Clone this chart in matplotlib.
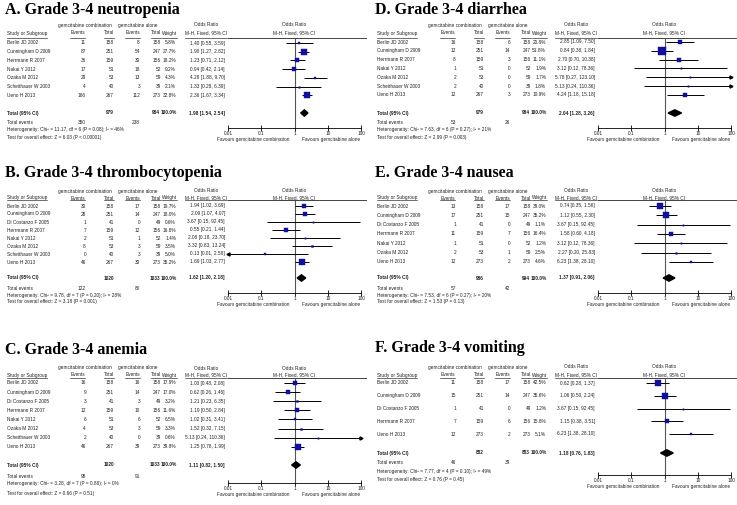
import matplotlib
matplotlib.use("Agg")
import matplotlib.pyplot as plt
import numpy as np

# ---------------- data ----------------
# A. neutropenia
a_study = ["Berlin JD 2002", "Cunningham D 2009", "Herrmann R 2007", "Nakai Y 2012",
           "Ozaka M 2012", "Scheithauer W 2003", "Ueno H 2013"]
a_ev1 = [11, 87, 36, 17, 29, 4, 166]
a_n1 = [158, 251, 159, 51, 53, 40, 267]
a_ev2 = [8, 54, 30, 18, 13, 3, 112]
a_n2 = [158, 247, 156, 52, 59, 39, 273]
a_wt = [5.8, 27.7, 18.2, 9.2, 4.3, 2.1, 32.8]
a_or = [1.40, 1.90, 1.23, 0.94, 4.28, 1.33, 2.36]
a_lo = [0.55, 1.27, 0.71, 0.42, 1.88, 0.28, 1.67]
a_hi = [3.59, 2.82, 2.12, 2.14, 9.70, 6.39, 3.34]
a_tot = [1.98, 1.54, 2.54]
a_het = "Heterogeneity: Chi² = 11.17, df = 6 (P = 0.08); I² = 46%"
a_test = "Test for overall effect: Z = 6.03 (P < 0.00001)"

# B. thrombocytopenia
b_study = ["Berlin JD 2002", "Cunningham D 2009", "Di Costanzo F 2005", "Herrmann R 2007",
           "Nakai Y 2012", "Ozaka M 2012", "Scheithauer W 2003", "Ueno H 2013"]
b_ev1 = [30, 28, 1, 7, 2, 8, 0, 46]
b_n1 = [158, 251, 41, 159, 51, 53, 40, 267]
b_ev2 = [17, 14, 0, 12, 1, 3, 3, 30]
b_n2 = [158, 247, 49, 156, 52, 59, 39, 273]
b_wt = [19.7, 18.0, 0.6, 16.6, 1.4, 3.5, 5.0, 35.2]
b_or = [1.94, 2.09, 3.67, 0.55, 2.08, 3.32, 0.13, 1.69]
b_lo = [1.02, 1.07, 0.15, 0.21, 0.18, 0.83, 0.01, 1.03]
b_hi = [3.69, 4.07, 92.45, 1.44, 23.70, 13.24, 2.58, 2.77]
b_tot = [1.62, 1.20, 2.18]
b_het = "Heterogeneity: Chi² = 9.78, df = 7 (P = 0.20); I² = 28%"
b_test = "Test for overall effect: Z = 3.18 (P = 0.001)"

# C. anemia
c_study = b_study
c_ev1 = [16, 9, 3, 12, 6, 4, 2, 46]
c_n1 = [158, 251, 41, 159, 51, 53, 40, 267]
c_ev2 = [16, 14, 3, 10, 6, 3, 0, 39]
c_n2 = [158, 247, 49, 156, 52, 59, 39, 273]
c_wt = [17.9, 17.0, 3.2, 11.6, 6.5, 3.3, 0.6, 39.8]
c_or = [1.00, 0.62, 1.21, 1.19, 1.02, 1.52, 5.13, 1.25]
c_lo = [0.48, 0.26, 0.23, 0.50, 0.31, 0.32, 0.24, 0.78]
c_hi = [2.08, 1.46, 6.35, 2.84, 3.41, 7.15, 110.36, 1.99]
c_tot = [1.11, 0.82, 1.50]
c_het = "Heterogeneity: Chi² = 3.28, df = 7 (P = 0.86); I² = 0%"
c_test = "Test for overall effect: Z = 0.66 (P = 0.51)"

# D. diarrhea
d_study = a_study
d_ev1 = [16, 12, 8, 1, 2, 2, 12]
d_n1 = [158, 251, 159, 51, 53, 40, 267]
d_ev2 = [6, 14, 3, 0, 0, 0, 3]
d_n2 = [158, 247, 156, 52, 59, 39, 273]
d_wt = [20.8, 51.8, 11.1, 1.9, 1.7, 1.8, 10.9]
d_or = [2.85, 0.84, 2.70, 3.12, 5.78, 5.13, 4.24]
d_lo = [1.09, 0.38, 0.70, 0.12, 0.27, 0.24, 1.18]
d_hi = [7.50, 1.84, 10.38, 78.36, 123.10, 110.36, 15.18]
d_tot = [2.04, 1.28, 3.26]
d_het = "Heterogeneity: Chi² = 7.63, df = 6 (P = 0.27); I² = 21%"
d_test = "Test for overall effect: Z = 2.99 (P = 0.003)"

# E. nausea
e_study = ["Berlin JD 2002", "Cunningham D 2009", "Di Costanzo F 2005", "Herrmann R 2007",
           "Nakai Y 2012", "Ozaka M 2012", "Ueno H 2013"]
e_ev1 = [13, 17, 1, 11, 1, 2, 12]
e_n1 = [158, 251, 41, 159, 51, 53, 273]
e_ev2 = [17, 15, 0, 7, 0, 1, 2]
e_n2 = [158, 247, 49, 156, 52, 59, 273]
e_wt = [39.0, 35.2, 1.1, 16.4, 1.2, 2.5, 4.6]
e_or = [0.74, 1.12, 3.67, 1.58, 3.12, 2.27, 6.23]
e_lo = [0.35, 0.55, 0.15, 0.60, 0.12, 0.20, 1.38]
e_hi = [1.56, 2.30, 92.45, 4.18, 78.36, 25.83, 28.10]
e_tot = [1.37, 0.91, 2.06]
e_het = "Heterogeneity: Chi² = 7.53, df = 6 (P = 0.27); I² = 20%"
e_test = "Test for overall effect: Z = 1.53 (P = 0.13)"

# F. vomiting
f_study = ["Berlin JD 2002", "Cunningham D 2009", "Di Costanzo F 2005", "Herrmann R 2007", "Ueno H 2013"]
f_ev1 = [11, 15, 1, 7, 12]
f_n1 = [158, 251, 41, 159, 273]
f_ev2 = [17, 14, 0, 6, 2]
f_n2 = [158, 247, 49, 156, 273]
f_wt = [42.5, 35.6, 1.2, 15.6, 5.1]
f_or = [0.62, 1.06, 3.67, 1.15, 6.23]
f_lo = [0.28, 0.50, 0.15, 0.38, 1.38]
f_hi = [1.37, 2.24, 92.45, 3.51, 28.10]
f_tot = [1.18, 0.76, 1.83]
f_het = "Heterogeneity: Chi² = 7.77, df = 4 (P = 0.10); I² = 49%"
f_test = "Test for overall effect: Z = 0.76 (P = 0.45)"

ticks = [0.01, 0.1, 1, 10, 100]
tick_labels = ["0.01", "0.1", "1", "10", "100"]

# ---------------- figure ----------------
W, H = 737, 505
fig = plt.figure(figsize=(7.37, 5.05), dpi=100)
bg = fig.add_axes([0, 0, 1, 1])
bg.set_xlim(0, W)
bg.set_ylim(H, 0)
bg.axis('off')

FS = 3.45
FAM = ['Liberation Sans Narrow', 'Liberation Sans', 'DejaVu Sans']
BLUE = '#1010a0'
TXT = '#222222'
renderer = fig.canvas.get_renderer()


def t(x, y, s, ha='left', bold=False):
    return bg.text(x, y, s, fontsize=FS, family=FAM, ha=ha, va='center', color=TXT,
                   fontweight='bold' if bold else 'normal')


def underline(txt, y):
    bb = txt.get_window_extent(renderer=renderer)
    x0, x1 = bg.transData.inverted().transform([[bb.x0, 0], [bb.x1, 0]])[:, 0]
    bg.plot([x0, x1], [y, y], color='k', lw=0.4)


def fmt(o, lw_, hi_):
    return "%.2f [%.2f, %.2f]" % (o, lw_, hi_)


def panel(x0, L, title, names, ev1, n1, ev2, n2, wt, orv, lo, hi, tot, het, test):
    bg.text(x0 + 5, L['title'], title, fontsize=11.5, fontweight='bold',
            family='Liberation Serif', va='center')
    # headers
    t(x0 + 85, L['h1'], "gemcitabine combination", ha='center')
    t(x0 + 138, L['h1'], "gemcitabine alone", ha='center')
    t(x0 + 206, L['h1'], "Odds Ratio", ha='center')
    t(x0 + 294, L['h1'], "Odds Ratio", ha='center')
    ul = L['ul']
    for xx, s, ha in [(7, "Study or Subgroup", 'left'), (85, "Events", 'right'),
                      (114, "Total", 'right'), (140, "Events", 'right'),
                      (161, "Total", 'right'), (177, "Weight", 'right'),
                      (227, "M-H, Fixed, 95% CI", 'right'), (294, "M-H, Fixed, 95% CI", 'center')]:
        underline(t(x0 + xx, L['h2'], s, ha=ha), ul)
    bg.plot([x0 + 228, x0 + 366], [ul, ul], color='#444444', lw=0.7)

    ys = L['r0'] + L['dy'] * np.arange(len(names))
    for i, y in enumerate(ys):
        t(x0 + 7, y, names[i])
        t(x0 + 86, y, str(ev1[i]), ha='right')
        t(x0 + 114, y, str(n1[i]), ha='right')
        t(x0 + 140, y, str(ev2[i]), ha='right')
        t(x0 + 161, y, str(n2[i]), ha='right')
        t(x0 + 176, y, "%.1f%%" % wt[i], ha='right')
        t(x0 + 225, y, fmt(orv[i], lo[i], hi[i]), ha='right')
    yt = L['total']
    t(x0 + 7, yt, "Total (95% CI)", bold=True)
    t(x0 + 114, yt, str(sum(n1)), ha='right', bold=True)
    t(x0 + 160, yt, str(sum(n2)), ha='right', bold=True)
    t(x0 + 177, yt, "100.0%", ha='right', bold=True)
    t(x0 + 225, yt, fmt(*tot), ha='right', bold=True)
    t(x0 + 7, L['te'], "Total events")
    t(x0 + 86, L['te'], str(sum(ev1)), ha='right')
    t(x0 + 140, L['te'], str(sum(ev2)), ha='right')
    t(x0 + 7, L['het'], het)
    t(x0 + 7, L['test'], test)

    # forest plot
    fx0, fx1 = x0 + 228, x0 + 361
    fax = fig.add_axes([fx0 / W, 1 - L['axis'] / H, (fx1 - fx0) / W, (L['axis'] - ul) / H])
    fax.set_xscale('log')
    fax.set_xlim(0.01, 100)
    fax.set_ylim(L['axis'], ul)
    fax.patch.set_visible(False)
    for sp in ['top', 'left', 'right']:
        fax.spines[sp].set_visible(False)
    fax.spines['bottom'].set_linewidth(0.6)
    fax.set_yticks([])
    fax.set_xticks(ticks)
    fax.set_xticklabels(tick_labels, fontsize=FS, family=FAM, color=TXT)
    fax.minorticks_off()
    fax.tick_params(axis='x', direction='inout', length=4, width=0.6, pad=0.5)
    fax.vlines(1, ul, L['axis'], color='#555555', lw=0.8, zorder=3)
    cl = np.clip(lo, 0.01, 100)
    ch = np.clip(hi, 0.01, 100)
    fax.hlines(ys, cl, ch, color='k', lw=0.7, zorder=3)
    for i, y in enumerate(ys):
        if lo[i] <= 0.01:
            fax.plot(0.01, y, marker='<', ms=2.2, color='k', clip_on=False, zorder=4)
        if hi[i] > 100:
            fax.plot(100, y, marker='>', ms=2.2, color='k', clip_on=False, zorder=4)
        fax.plot(orv[i], y, marker='s', ms=max(0.75 * np.sqrt(wt[i]), 1.0),
                 color=BLUE, mec=BLUE, mew=0.3, clip_on=False, zorder=5)
    o, l, h = tot
    fax.fill([l, o, h, o], [yt, yt - 3.2, yt, yt + 3.2], color='k', clip_on=False, zorder=5)
    xc = x0 + 294.5
    yf = L['axis'] + 11.5
    t(xc - 5, yf, "Favours gemcitabine combination", ha='right')
    t(xc + 8, yf, "Favours gemcitabine alone", ha='left')


LA = dict(title=10, h1=25, h2=33, ul=37.5, r0=43, dy=8.7, total=113, te=122, het=129, test=137, axis=128)
LB = dict(title=173, h1=191, h2=198, ul=200, r0=206, dy=8.0, total=278, te=288, het=296, test=302, axis=293)
LC = dict(title=350, h1=368, h2=375, ul=377.5, r0=383, dy=9.1, total=465, te=476, het=484, test=494, axis=483)
LD = dict(LA, r0=42, dy=8.83)
LE = dict(LB, dy=9.3)
LF = dict(title=348, h1=367, h2=375, ul=377.5, r0=383, dy=12.75, total=453, te=463, het=472, test=480, axis=475)

panel(0, LA, "A. Grade 3-4 neutropenia", a_study, a_ev1, a_n1, a_ev2, a_n2, a_wt, a_or, a_lo, a_hi, a_tot, a_het, a_test)
panel(0, LB, "B. Grade 3-4 thrombocytopenia", b_study, b_ev1, b_n1, b_ev2, b_n2, b_wt, b_or, b_lo, b_hi, b_tot, b_het, b_test)
panel(0, LC, "C. Grade 3-4 anemia", c_study, c_ev1, c_n1, c_ev2, c_n2, c_wt, c_or, c_lo, c_hi, c_tot, c_het, c_test)
panel(370, LD, "D. Grade 3-4 diarrhea", d_study, d_ev1, d_n1, d_ev2, d_n2, d_wt, d_or, d_lo, d_hi, d_tot, d_het, d_test)
panel(370, LE, "E. Grade 3-4 nausea", e_study, e_ev1, e_n1, e_ev2, e_n2, e_wt, e_or, e_lo, e_hi, e_tot, e_het, e_test)
panel(370, LF, "F. Grade 3-4 vomiting", f_study, f_ev1, f_n1, f_ev2, f_n2, f_wt, f_or, f_lo, f_hi, f_tot, f_het, f_test)

fig.savefig("out.png", dpi=100)
